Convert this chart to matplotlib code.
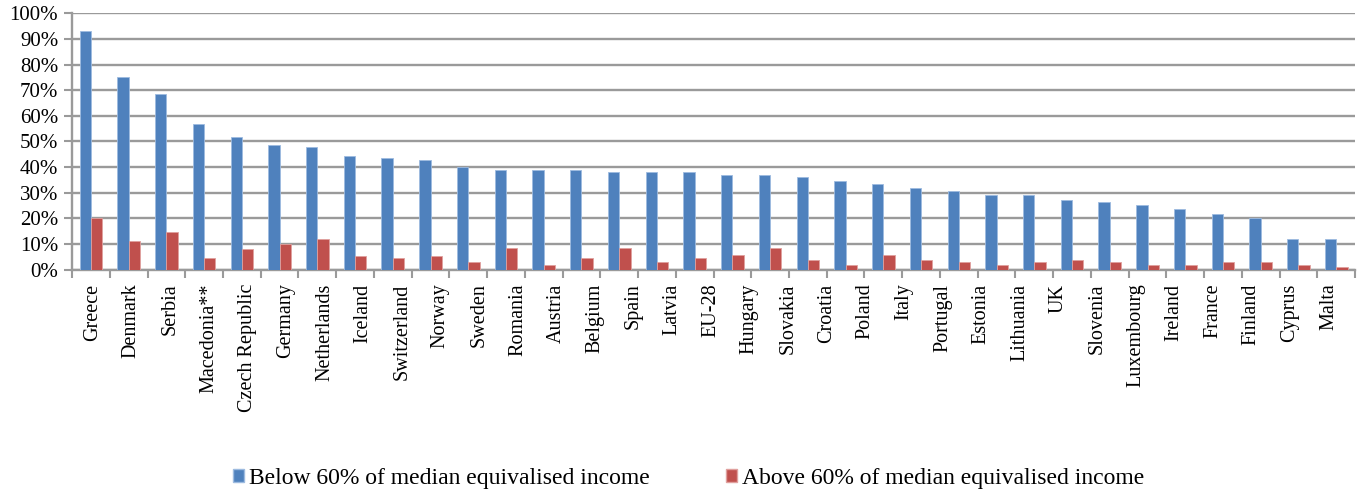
import numpy as np
import matplotlib
matplotlib.use("Agg")
import matplotlib.pyplot as plt
from matplotlib.patches import Patch

plt.rcParams["font.family"] = ["Liberation Serif", "DejaVu Serif"]

# labels as printed in the source figure
categories = ["Greece", "Denmark", "Serbia", "Macedonia**", "Czech Republic", "Germany",
              "Netherlands", "Iceland", "Switzerland", "Norway", "Sweden", "Romania",
              "Austria", "Belgium", "Spain", "Latvia", "EU-28", "Hungary", "Slovakia",
              "Croatia", "Poland", "Italy", "Portugal", "Estonia", "Lithuania", "UK",
              "Slovenia", "Luxembourg", "Ireland", "France", "Finland", "Cyprus", "Malta"]

# the source draws 34 bar pairs (one label is missing in the printed figure)
below60 = [93.1, 75.0, 68.6, 57.0, 51.6, 48.8, 47.9, 44.4, 43.5, 42.6, 40.1, 38.8,
           38.8, 38.8, 37.9, 37.9, 37.9, 37.1, 37.1, 36.2, 34.4, 33.5, 31.7, 30.8,
           29.0, 29.0, 27.1, 26.2, 25.4, 23.5, 21.8, 20.0, 11.8, 11.8]
above60 = [20.0, 11.0, 14.6, 4.7, 8.2, 10.0, 11.8, 5.5, 4.7, 5.5, 2.8, 8.3,
           1.9, 4.6, 8.3, 2.8, 4.6, 5.6, 8.3, 3.7, 1.9, 5.6, 3.7, 2.8,
           1.9, 2.8, 3.7, 2.8, 1.9, 1.9, 2.8, 2.8, 1.9, 1.0]

series_names = ["Below 60% of median equivalised income",
                "Above 60% of median equivalised income"]
blue = "#4F81BD"
red = "#C0504D"
grid_col = "#9a9a9a"

x = np.arange(len(below60))
w = 0.30

fig = plt.figure(figsize=(13.62, 4.97), dpi=100)
ax = fig.add_axes([0.0529, 0.4575, 0.9420, 0.5157])

ax.bar(x - w / 2, np.array(below60) / 100, w, color=blue, edgecolor="#9dbbe0", linewidth=0.6, zorder=3)
ax.bar(x + w / 2, np.array(above60) / 100, w, color=red, edgecolor="#e0a09e", linewidth=0.6, zorder=3)

ax.set_xlim(-0.5, len(below60) - 0.5)
ax.set_ylim(0, 1.0)

yt = np.arange(0, 1.01, 0.1)
ax.set_yticks(yt)
ax.set_yticklabels([f"{int(round(v * 100))}%" for v in yt], fontsize=15)
ax.yaxis.grid(True, color=grid_col, linewidth=1.7, zorder=0)
ax.set_axisbelow(True)

label_pos = np.linspace(0.05, 32.8, len(categories))
ax.set_xticks(label_pos)
ax.set_xticklabels(categories, rotation=90, fontsize=14.5, ha="center", va="top")
ax.set_xticks(np.arange(-0.5, len(below60), 1), minor=True)
ax.tick_params(axis="x", which="major", length=0, pad=10)
ax.tick_params(axis="x", which="minor", length=6, width=1.5, color=grid_col)
ax.tick_params(axis="y", length=6, width=1.5, color=grid_col, pad=4)

for s in ["top", "right"]:
    ax.spines[s].set_visible(False)
for s in ["left", "bottom"]:
    ax.spines[s].set_color(grid_col)
    ax.spines[s].set_linewidth(1.7)

handles = [Patch(facecolor=blue, edgecolor="#9dbbe0"), Patch(facecolor=red, edgecolor="#e0a09e")]
fig.legend(handles, series_names, loc="center", bbox_to_anchor=(0.5055, 0.038), ncol=2,
           frameon=False, fontsize=17, handlelength=0.5, handleheight=0.5,
           handletextpad=0.2, columnspacing=3.2)

fig.savefig("out.png", dpi=100)
